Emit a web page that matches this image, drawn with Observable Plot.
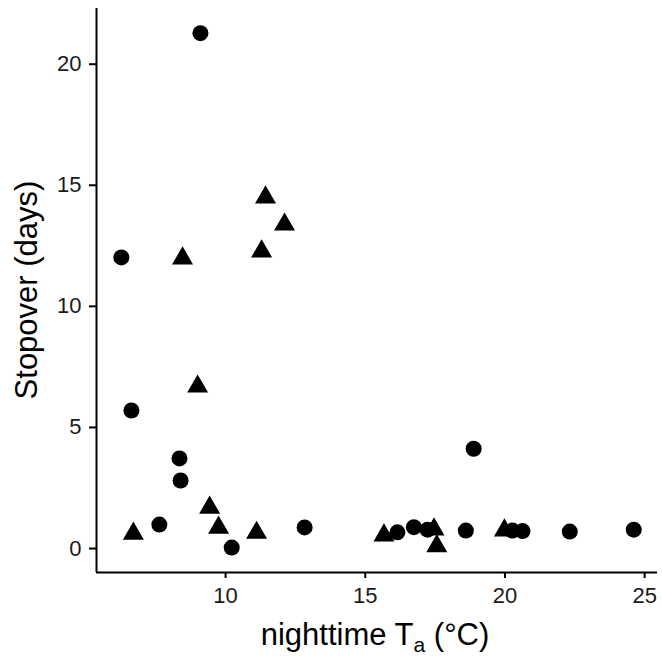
<!DOCTYPE html>
<html><head><meta charset="utf-8">
<script src="https://cdn.jsdelivr.net/npm/d3@7"></script>
<script src="https://cdn.jsdelivr.net/npm/@observablehq/plot@0.6"></script>
<style>body{margin:0;background:#fff}</style>
</head><body><div id="chart"></div>
<script>
const circleX = [9.10, 6.27, 6.63, 8.35, 8.39, 7.63, 10.22, 12.83, 16.15, 16.74, 17.23, 18.60, 18.88, 20.27, 20.63, 22.32, 24.61];
const circleY = [21.28, 12.02, 5.70, 3.72, 2.81, 0.99, 0.04, 0.87, 0.67, 0.88, 0.78, 0.74, 4.12, 0.74, 0.72, 0.70, 0.78];
const triX = [11.43, 12.11, 11.29, 8.46, 9.00, 6.70, 9.43, 9.75, 11.11, 15.67, 17.46, 17.56, 19.98];
const triY = [14.50, 13.38, 12.27, 11.98, 6.69, 0.61, 1.69, 0.86, 0.65, 0.54, 0.79, 0.10, 0.75];
const xTicks = [10, 15, 20, 25];
const yTicks = [0, 5, 10, 15, 20];
const xDomain = [5.38, 25.46];
const yDomain = [-0.99, 22.3];

const circles = circleX.map((x, i) => ({x, y: circleY[i]}));
const tris = triX.map((x, i) => ({x, y: triY[i]}));

const W = 662, H = 656, mL = 96, mR = 5, mT = 8, mB = 84;
const ff = "'Liberation Sans', Arial, Helvetica, sans-serif";
const plot = Plot.plot({
  width: W, height: H,
  marginLeft: mL, marginRight: mR, marginTop: mT, marginBottom: mB,
  style: {fontFamily: ff, fontSize: "22px", color: "#000", background: "#fff"},
  x: {domain: xDomain},
  y: {domain: yDomain},
  marks: [
    Plot.axisX({ticks: xTicks, tickSize: 6, tickPadding: 9, strokeWidth: 2, label: null, fontSize: 22, fill: "#1a1a1a"}),
    Plot.axisY({ticks: yTicks, tickSize: 7, tickPadding: 8, strokeWidth: 2, label: null, fontSize: 22, fill: "#1a1a1a"}),
    Plot.ruleY([yDomain[0]], {stroke: "#000", strokeWidth: 2}),
    Plot.ruleX([xDomain[0]], {stroke: "#000", strokeWidth: 2}),
    Plot.dot(circles, {x: "x", y: "y", r: 8, fill: "#000", symbol: "circle"}),
    Plot.dot(tris, {x: "x", y: "y", r: 7.8, fill: "#000", symbol: "triangle"})
  ]
});
document.getElementById("chart").appendChild(plot);

const svg = d3.select(plot);
const xt = svg.append("text")
  .attr("x", 375).attr("y", 645)
  .attr("text-anchor", "middle").attr("font-family", ff).attr("font-size", 31).attr("fill", "#000");
xt.append("tspan").text("nighttime T");
xt.append("tspan").attr("font-size", 21).attr("dy", 7).text("a");
xt.append("tspan").attr("dy", -7).text(" (°C)");

svg.append("text")
  .attr("transform", `translate(37,${(mT + H - mB) / 2}) rotate(-90)`)
  .attr("text-anchor", "middle").attr("font-family", ff).attr("font-size", 31).attr("fill", "#000")
  .text("Stopover (days)");
</script>
</body></html>
